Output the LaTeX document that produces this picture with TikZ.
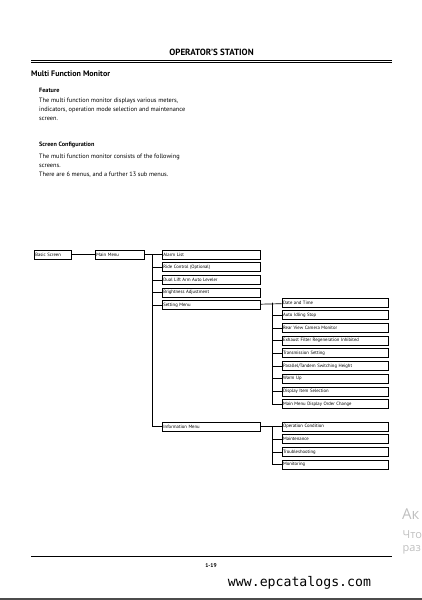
\documentclass[tikz,border=0pt]{standalone}
\usepackage{fontspec}
\setmainfont{PT Sans}
\newfontfamily\wmfont{Open Sans}
\setmonofont{DejaVu Sans Mono}
\usepackage{xcolor}
\usetikzlibrary{
    positioning
}

\begin{document}
\begin{tikzpicture}[
    x=1pt, y=-1pt,
    menu/.style={
        draw,
        line width=0.7pt,
        anchor=west,
        minimum height=9pt,
        inner sep=1pt,
        align=left,
        font=\fontsize{4.7}{5}\selectfont
    },
    top/.style={menu, text width=96pt},
    sub/.style={menu, text width=104pt},
    link/.style={draw, line width=0.7pt},
    para/.style={anchor=north west, inner sep=0pt, align=left,
        font=\fontsize{6.3}{8.9}\selectfont}
]
\useasboundingbox (0,0) rectangle (422,600);

% page head
\node[font=\bfseries\fontsize{9}{10}\selectfont] (head) at (211.5,52.7) {OPERATOR'S STATION};
\draw[line width=1pt] (31,60.6) -- (392,60.6);
\draw[line width=0.5pt] (31,62.6) -- (392,62.6);
\node[anchor=west, inner sep=0pt, font=\bfseries\fontsize{8}{9}\selectfont] (title) at (31,73.3) {Multi Function Monitor};

\node[anchor=west, inner sep=0pt, font=\bfseries\fontsize{6.2}{7}\selectfont] (feat) at (39,90.7) {Feature};
\node[para] (feattxt) at (39,97.6) {The multi function monitor displays various meters,\\
    indicators, operation mode selection and maintenance\\
    screen.};

\node[anchor=west, inner sep=0pt, font=\bfseries\fontsize{6.2}{7}\selectfont] (conf) at (39,145.3) {Screen Configuration};
\node[para] (conftxt) at (39,153.8) {The multi function monitor consists of the following\\
    screens.\\
    There are 6 menus, and a further 13 sub menus.};

% menu tree
\node[menu, text width=35pt] (basic) at (34,254.5) {Basic Screen};
\node[menu, text width=47pt] (main) at (95,254.5) {Main Menu};

\node[top] (alarm) at (162,254.5) {Alarm List};
\node[top, below=3pt of alarm] (ride) {Ride Control (Optional)};
\node[top, below=3pt of ride] (dual) {Dual Lift Arm Auto Leveler};
\node[top, below=3pt of dual] (bright) {Brightness Adjustment};
\node[top, below=3pt of bright] (setting) {Setting Menu};
\node[top] (info) at (162,426.5) {Information Menu};

\node[sub] (date) at (281.7,302.5) {Date and Time};
\node[sub, below=3pt of date] (idle) {Auto Idling Stop};
\node[sub, below=3pt of idle] (camera) {Rear View Camera Monitor};
\node[sub, below=3pt of camera] (filter) {Exhaust Filter Regeneration Inhibited};
\node[sub, below=3pt of filter] (trans) {Transmission Setting};
\node[sub, below=3pt of trans] (height) {Parallel/Tandem Switching Height};
\node[sub, below=3pt of height] (warm) {Warm Up};
\node[sub, below=3pt of warm] (item) {Display Item Selection};
\node[sub, below=3pt of item] (order) {Main Menu Display Order Change};

\node[sub] (opcond) at (281.7,426.5) {Operation Condition};
\node[sub, below=3pt of opcond] (maint) {Maintenance};
\node[sub, below=3pt of maint] (trouble) {Troubleshooting};
\node[sub, below=3pt of trouble] (monit) {Monitoring};

\draw[link] (basic) -- (main);
\draw[link] (main) -- (alarm);
\foreach \n in {ride,dual,bright,setting,info}
    \draw[link] ([xshift=-9.3pt]alarm.west) |- (\n.west);

\draw[link] (setting) -- (date);
\foreach \n in {idle,camera,filter,trans,height,warm,item,order}
    \draw[link] ([xshift=-9pt]date.west) |- (\n.west);

\draw[link] (info) -- (opcond);
\foreach \n in {maint,trouble,monit}
    \draw[link] ([xshift=-9pt]opcond.west) |- (\n.west);

% page foot
\draw[line width=0.7pt] (31,556) -- (392,556);
\node[font=\bfseries\fontsize{5.5}{6}\selectfont] (page) at (211,566) {1-19};
\node[font=\ttfamily\fontsize{13.2}{14}\selectfont] (site) at (299.5,582.7) {www.epcatalogs.com};

\begin{scope}[black!25, inner sep=0pt, anchor=west]
    \node[font=\wmfont\fontsize{15}{16}\selectfont] (wm1) at (402,514) {Ак};
    \node[font=\wmfont\fontsize{11}{12}\selectfont] (wm2) at (402.5,535) {Что};
    \node[font=\wmfont\fontsize{11}{12}\selectfont] (wm3) at (402.5,549.5) {раз};
\end{scope}
\fill[black!70] (0,598) rectangle (422,600);
\end{tikzpicture}
\end{document}
